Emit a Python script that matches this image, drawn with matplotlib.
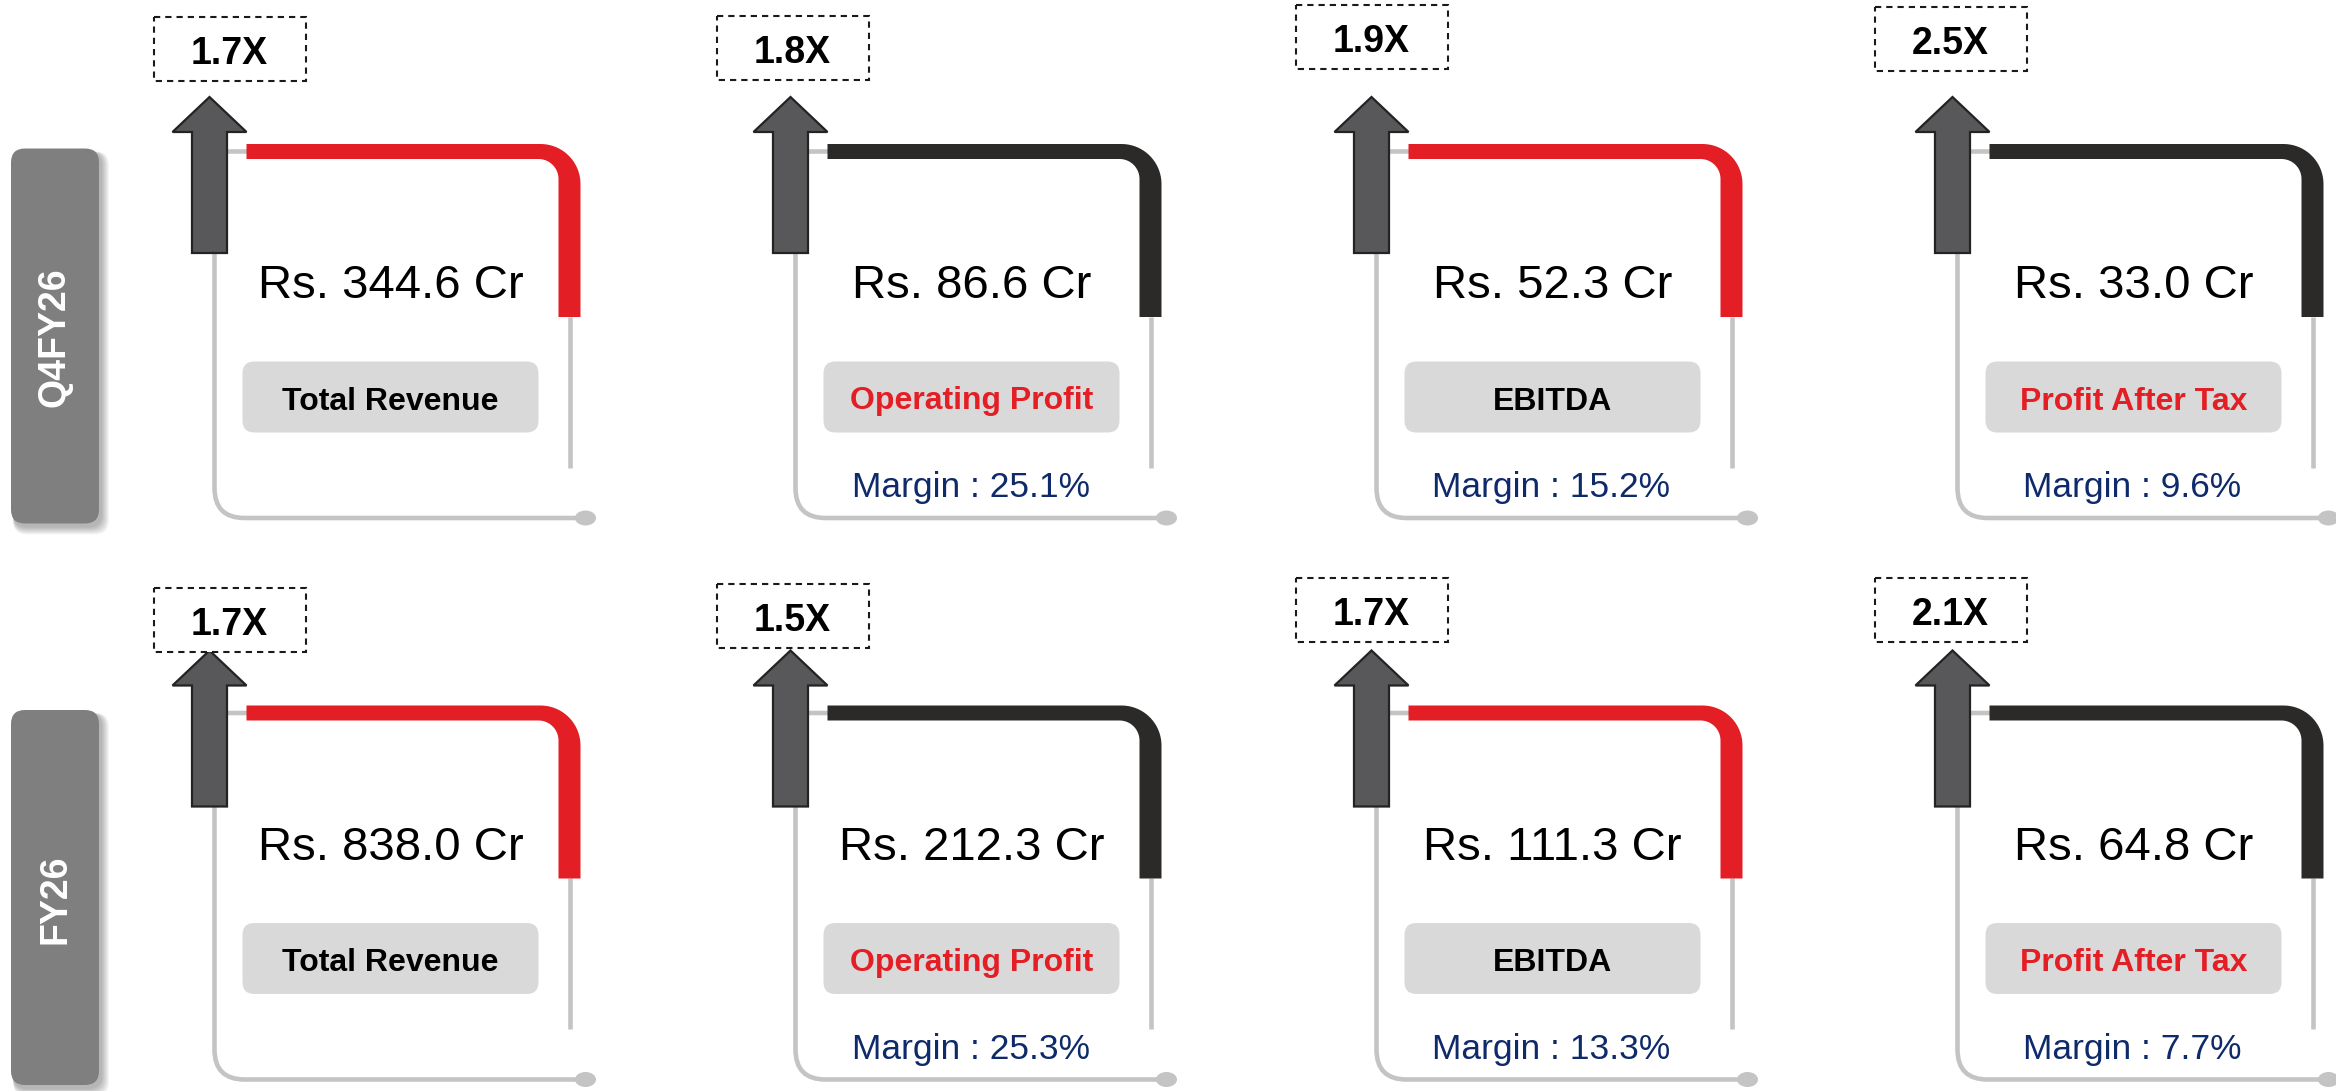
import numpy as np
import matplotlib
matplotlib.use("Agg")
import matplotlib.pyplot as plt
from matplotlib.patches import Polygon, FancyBboxPatch, Rectangle, Ellipse, PathPatch
from matplotlib.path import Path

plt.rcParams['font.family'] = ['Liberation Sans', 'DejaVu Sans']

# data
periods = ['Q4FY26', 'FY26']
metrics = ['Total Revenue', 'Operating Profit', 'EBITDA', 'Profit After Tax']
values = [[344.6, 86.6, 52.3, 33.0],
          [838.0, 212.3, 111.3, 64.8]]
growth = [[1.7, 1.8, 1.9, 2.5],
          [1.7, 1.5, 1.7, 2.1]]
margins = [[None, 25.1, 15.2, 9.6],
           [None, 25.3, 13.3, 7.7]]

# colours
RED = '#e31e24'
DARK = '#2b2a29'
GREY = '#c4c4c4'
NAVY = '#0f2a6b'
line_col = [RED, DARK, RED, DARK]
label_col = ['black', RED, 'black', RED]

# layout (pixel units, y down)
W, H = 2336, 1091
col_x = [209.5 + i * 581 for i in range(4)]
row_y = [151.5, 713]
arrow_dy = [0, -8]
box_top = [[17, 16, 5, 7], [588, 584, 578, 578]]
box_dx = [20, 2, 0, -2]

fig = plt.figure(figsize=(W / 100, H / 100), dpi=100)
ax = fig.add_axes([0, 0, 1, 1])
ax.set_xlim(0, W)
ax.set_ylim(H, 0)
ax.axis('off')


def arc(cx, cy, r, t0, t1, n=20):
    t = np.linspace(t0, t1, n)
    return np.column_stack([cx + r * np.sin(t), cy - r * np.cos(t)])


def corner_line(x0, y0, color):
    # thick bar: horizontal then rounded down the right side
    xs = x0 + 37
    top, bot = y0 - 7.5, y0 + 7.5
    xo, xi = x0 + 371, x0 + 349
    yend = y0 + 165.5
    R, r = 40, 20
    pts = [(xs, top)]
    pts += list(arc(xo - R, top + R, R, 0, np.pi / 2))
    pts += [(xo, yend), (xi, yend)]
    pts += list(arc(xi - r, bot + r, r, np.pi / 2, 0))
    pts += [(xs, bot)]
    ax.add_patch(Polygon(pts, closed=True, fc=color, ec='none', zorder=3))


def frame(x0, y0):
    xl = x0 + 5
    yb = y0 + 366.5
    r1, r2 = 14, 30
    verts = [(x0 + 40, y0), (xl + r1, y0), (xl, y0), (xl, y0 + r1),
             (xl, yb - r2), (xl, yb), (xl + r2, yb), (x0 + 375, yb)]
    codes = [Path.MOVETO, Path.LINETO, Path.CURVE3, Path.CURVE3,
             Path.LINETO, Path.CURVE3, Path.CURVE3, Path.LINETO]
    ax.add_patch(PathPatch(Path(verts, codes), fc='none', ec=GREY, lw=3.3,
                           capstyle='butt', zorder=1))
    ax.plot([x0 + 360, x0 + 360], [y0 + 165, y0 + 316], color=GREY, lw=3.3,
            solid_capstyle='butt', zorder=1)
    ax.add_patch(Ellipse((x0 + 376, yb), 21, 15, fc=GREY, ec='none', zorder=1))


def arrow(x0, y0):
    pts = [(x0, y0 - 54.5), (x0 + 37, y0 - 19.5), (x0 + 17.5, y0 - 19.5),
           (x0 + 17.5, y0 + 101.5), (x0 - 17.5, y0 + 101.5),
           (x0 - 17.5, y0 - 19.5), (x0 - 37, y0 - 19.5)]
    ax.add_patch(Polygon(pts, closed=True, fc='#58585a', ec='#232323',
                         lw=1.6, joinstyle='miter', zorder=4))


for i, period in enumerate(periods):
    y0 = row_y[i]

    # side period label with soft shadow
    for k in range(8, 0, -1):
        ax.add_patch(FancyBboxPatch((11 + 2, y0 - 3 + 3), 88 + k, 375 + k,
                                    boxstyle='round,pad=0,rounding_size=14',
                                    fc='black', ec='none', alpha=0.04, zorder=1))
    ax.add_patch(FancyBboxPatch((11, y0 - 3), 88, 375,
                                boxstyle='round,pad=0,rounding_size=14',
                                fc='#7f7f7f', ec='none', zorder=2))
    ax.text(55, y0 + 186, period, rotation=90, ha='center', va='center',
            color='white', fontsize=27, fontweight='bold', zorder=3)

    for j, metric in enumerate(metrics):
        x0 = col_x[j]
        frame(x0, y0)
        corner_line(x0, y0, line_col[j])
        arrow(x0, y0 + arrow_dy[i])

        # growth multiple in dashed box
        bx = x0 + box_dx[j]
        bt = box_top[i][j]
        ax.add_patch(Rectangle((bx - 76, bt), 152, 64, fc='white', ec='#1a1a1a',
                               lw=1.5, linestyle=(0, (3, 2.4)), zorder=4))
        ax.text(bx, bt + 47, f'{growth[i][j]:.1f}X', ha='center', va='baseline',
                fontsize=27, fontweight='bold', color='black', zorder=5)

        # value
        ax.text(x0 + 181, y0 + 147, f'Rs. {values[i][j]:.1f} Cr', ha='center',
                va='baseline', fontsize=34, color='black', zorder=5)

        # metric pill
        ax.add_patch(FancyBboxPatch((x0 + 33, y0 + 210), 296, 71,
                                    boxstyle='round,pad=0,rounding_size=12',
                                    fc='#d9d9d9', ec='none', zorder=2))
        ax.text(x0 + 181, y0 + 258, metric, ha='center', va='baseline',
                fontsize=23, fontweight='bold', color=label_col[j], zorder=5)

        if margins[i][j] is not None:
            ax.text(x0 + 180, y0 + 346, f'Margin : {margins[i][j]:.1f}%',
                    ha='center', va='baseline', fontsize=25.5, color=NAVY, zorder=5)

fig.savefig('out.png', dpi=100)
